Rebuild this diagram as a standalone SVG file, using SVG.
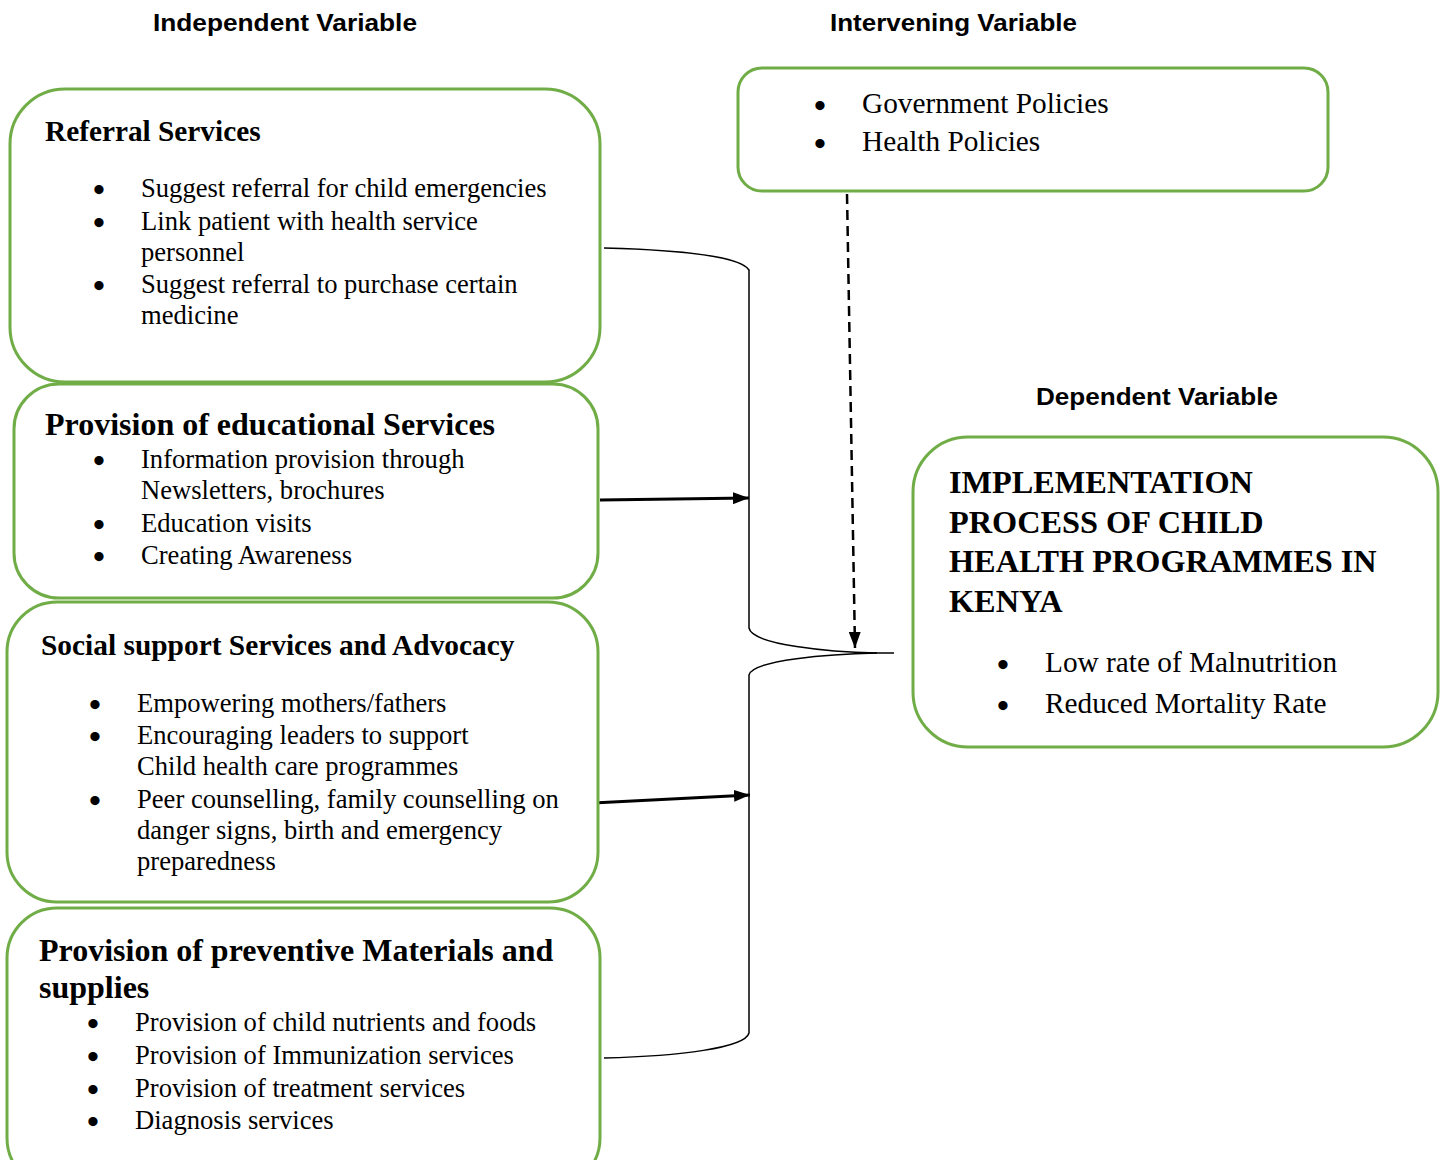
<svg xmlns="http://www.w3.org/2000/svg" width="1447" height="1160" viewBox="0 0 1447 1160">
  <style>
    .box { fill: #ffffff; stroke: #70AD47; stroke-width: 3; }
    .hdr { font-family: "Liberation Sans", Arial, sans-serif; font-weight: bold; font-size: 23px; fill: #000; }
    .ttl { font-family: "Liberation Serif", "Times New Roman", serif; font-weight: bold; fill: #000; }
    .txt { font-family: "Liberation Serif", "Times New Roman", serif; font-size: 26.6px; fill: #000; }
    .big { font-size: 29.3px; }
    .blt { font-family: "Liberation Serif", "Times New Roman", serif; font-size: 34px; font-weight: bold; fill: #000; text-anchor: middle; }
    .conn { fill: none; stroke: #000; stroke-width: 1.5; }
    .arrow { fill: none; stroke: #000; stroke-width: 3; }
  </style>
  <defs>
    <marker id="headBig" viewBox="0 0 16 12" refX="16" refY="6" markerWidth="16" markerHeight="12" orient="auto" markerUnits="userSpaceOnUse">
      <path d="M0,0 L16,6 L0,12 z" fill="#000"/>
    </marker>
  </defs>

  <rect width="1447" height="1160" fill="#ffffff"/>

  <!-- column headings -->
  <g id="headings">
    <text class="hdr" x="153" y="31" textLength="264" lengthAdjust="spacingAndGlyphs">Independent Variable</text>
    <text class="hdr" x="830" y="31" textLength="247" lengthAdjust="spacingAndGlyphs">Intervening Variable</text>
    <text class="hdr" x="1036" y="405" textLength="242" lengthAdjust="spacingAndGlyphs">Dependent Variable</text>
  </g>

  <!-- connectors -->
  <g id="connectors">
    <!-- brace gathering the independent variables -->
    <path class="conn" d="M604,248 C680,250 740,256 749,270 L749,628 C752,645 830,652 877,653 L894,653"/>
    <path class="conn" d="M877,653 C830,654 752,660 749,675 L749,1033 C745,1048 680,1056 604,1058"/>
    <line class="arrow" x1="600" y1="500" x2="749" y2="498" marker-end="url(#headBig)"/>
    <line class="arrow" x1="593" y1="803" x2="750" y2="795" marker-end="url(#headBig)"/>
    <line x1="847" y1="194" x2="855" y2="648" stroke="#000" stroke-width="2.5" stroke-dasharray="10,6" marker-end="url(#headBig)"/>
  </g>

  <!-- Referral Services -->
  <g id="referral">
    <rect class="box" x="10" y="89" width="590" height="293" rx="55" ry="55"/>
    <text class="ttl" x="45" y="141" font-size="29.3">Referral Services</text>
    <text class="blt" x="99" y="201">•</text>
    <text class="txt" x="141" y="197">Suggest referral for child emergencies</text>
    <text class="blt" x="99" y="234">•</text>
    <text class="txt" x="141" y="230">Link patient with health service</text>
    <text class="txt" x="141" y="261">personnel</text>
    <text class="blt" x="99" y="297">•</text>
    <text class="txt" x="141" y="293">Suggest referral to purchase certain</text>
    <text class="txt" x="141" y="324">medicine</text>
  </g>

  <!-- Provision of educational Services -->
  <g id="educational">
    <rect class="box" x="14" y="384" width="584" height="214" rx="45" ry="45"/>
    <text class="ttl" x="45" y="435" font-size="32">Provision of educational Services</text>
    <text class="blt" x="99" y="472">•</text>
    <text class="txt" x="141" y="468">Information provision through</text>
    <text class="txt" x="141" y="499">Newsletters, brochures</text>
    <text class="blt" x="99" y="536">•</text>
    <text class="txt" x="141" y="532">Education visits</text>
    <text class="blt" x="99" y="568">•</text>
    <text class="txt" x="141" y="564">Creating Awareness</text>
  </g>

  <!-- Social support Services and Advocacy -->
  <g id="social">
    <rect class="box" x="7" y="602" width="591" height="300" rx="50" ry="50"/>
    <text class="ttl" x="41" y="655" font-size="29.4">Social support Services and Advocacy</text>
    <text class="blt" x="95" y="716">•</text>
    <text class="txt" x="137" y="712">Empowering mothers/fathers</text>
    <text class="blt" x="95" y="748">•</text>
    <text class="txt" x="137" y="744">Encouraging leaders to support</text>
    <text class="txt" x="137" y="775">Child health care programmes</text>
    <text class="blt" x="95" y="812">•</text>
    <text class="txt" x="137" y="808">Peer counselling, family counselling on</text>
    <text class="txt" x="137" y="839">danger signs, birth and emergency</text>
    <text class="txt" x="137" y="870">preparedness</text>
  </g>

  <!-- Provision of preventive Materials and supplies -->
  <g id="preventive">
    <rect class="box" x="7" y="908" width="593" height="280" rx="50" ry="50"/>
    <text class="ttl" x="39" y="961" font-size="32">Provision of preventive Materials and</text>
    <text class="ttl" x="39" y="998" font-size="32">supplies</text>
    <text class="blt" x="93" y="1035">•</text>
    <text class="txt" x="135" y="1031">Provision of child nutrients and foods</text>
    <text class="blt" x="93" y="1068">•</text>
    <text class="txt" x="135" y="1064">Provision of Immunization services</text>
    <text class="blt" x="93" y="1101">•</text>
    <text class="txt" x="135" y="1097">Provision of treatment services</text>
    <text class="blt" x="93" y="1133">•</text>
    <text class="txt" x="135" y="1129">Diagnosis services</text>
  </g>

  <!-- Intervening variable -->
  <g id="intervening">
    <rect class="box" x="738" y="68" width="590" height="123" rx="24" ry="24"/>
    <text class="blt" x="820" y="117">•</text>
    <text class="txt big" x="862" y="113">Government Policies</text>
    <text class="blt" x="820" y="155">•</text>
    <text class="txt big" x="862" y="151">Health Policies</text>
  </g>

  <!-- Dependent variable -->
  <g id="dependent">
    <rect class="box" x="913" y="437" width="525" height="310" rx="55" ry="55"/>
    <text class="ttl" x="949" y="493" font-size="32.3">IMPLEMENTATION</text>
    <text class="ttl" x="949" y="533" font-size="32.3">PROCESS OF CHILD</text>
    <text class="ttl" x="949" y="572" font-size="32.3">HEALTH PROGRAMMES IN</text>
    <text class="ttl" x="949" y="612" font-size="32.3">KENYA</text>
    <text class="blt" x="1003" y="676">•</text>
    <text class="txt big" x="1045" y="672">Low rate of Malnutrition</text>
    <text class="blt" x="1003" y="717">•</text>
    <text class="txt big" x="1045" y="713">Reduced Mortality Rate</text>
  </g>
</svg>
